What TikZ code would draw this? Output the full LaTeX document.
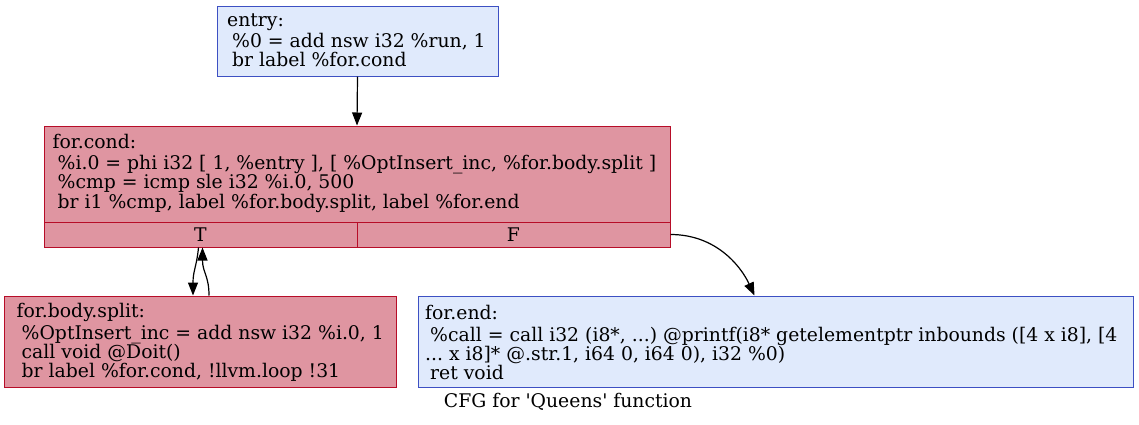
\documentclass[tikz,border=0pt]{standalone}
\usepackage{fontspec}
\setmainfont{DejaVu Serif}[Ligatures=TeXOff]
\usetikzlibrary{arrows.meta,calc}
\definecolor{redfill}{RGB}{223,149,161}
\definecolor{redline}{RGB}{183,13,40}
\definecolor{bluefill}{RGB}{224,234,252}
\definecolor{blueline}{RGB}{61,80,195}
\newcommand{\ind}{\hspace*{5pt}}
\frenchspacing
\begin{document}
\begin{tikzpicture}[x=1pt,y=-1pt,
  font=\fontsize{18.8}{19.4}\selectfont,
  blk/.style={draw, rectangle, line width=1pt, inner sep=0pt},
  hot/.style={blk, fill=redfill, draw=redline},
  cold/.style={blk, fill=bluefill, draw=blueline},
  txt/.style={anchor=north west, align=left, inner sep=0pt},
  port/.style={draw=redline, fill=redfill, line width=1pt, rectangle, inner sep=0pt, align=center},
  edge/.style={-{Triangle[length=13pt,width=10pt]}, line width=1.2pt, black}]
\useasboundingbox (0,0) rectangle (1139,424);

\node[cold, minimum width=281pt, minimum height=70pt] (entry) at (357.5,41) {};
\node[txt] (entrytxt) at (227,12.5)
  {\strut entry:\\ \ind\%0 = add nsw i32 \%run, 1\\ \ind br label \%for.cond};

\node[hot, minimum width=626pt, minimum height=96pt] (cond) at (357,174) {};
\node[txt] (condtxt) at (52.5,134)
  {\strut for.cond:\\ \ind\%i.0 = phi i32 [ 1, \%entry ], [ \%OptInsert\_inc, \%for.body.split ]\\ \ind\%cmp = icmp sle i32 \%i.0, 500\\ \ind br i1 \%cmp, label \%for.body.split, label \%for.end};
\node[port, minimum width=313pt, minimum height=25pt] (T) at (200.5,234.5) {T};
\node[port, minimum width=313pt, minimum height=25pt] (F) at (513.5,234.5) {F};

\node[hot, minimum width=392pt, minimum height=91pt] (body) at (200,341.5) {};
\node[txt] (bodytxt) at (16.5,303.5)
  {\strut for.body.split:\\ \ind\%OptInsert\_inc = add nsw i32 \%i.0, 1\\ \ind call void @Doit()\\ \ind br label \%for.cond, !llvm.loop !31};

\node[cold, minimum width=715pt, minimum height=91pt] (end) at (775.5,341.5) {};
\node[txt] (endtxt) at (425,305.5)
  {\strut for.end:\\ \ind\%call = call i32 (i8*, ...) @printf(i8* getelementptr inbounds ([4 x i8], [4\\... x i8]* @.str.1, i64 0, i64 0), i32 \%0)\\ \ind ret void};

\node (title) at (568,402) {CFG for 'Queens' function};

\draw[edge] (entry.south) -- (cond.north);
\draw[edge] ([xshift=-2pt]T.south) .. controls ([xshift=-4pt,yshift=-20pt]T.south) and ([xshift=-7pt,yshift=25pt]body.north) .. ([xshift=-7pt]body.north);
\draw[edge] ([xshift=9pt]body.north) .. controls ([xshift=9pt,yshift=20pt]body.north) and ([xshift=2pt,yshift=-25pt]T.south) .. ([xshift=2pt]T.south);
\draw[edge] (F.east) .. controls ([xshift=45pt]F.east) and ([xshift=-35pt,yshift=30pt]end.north) .. ([xshift=-21pt]end.north);
\end{tikzpicture}
\end{document}
